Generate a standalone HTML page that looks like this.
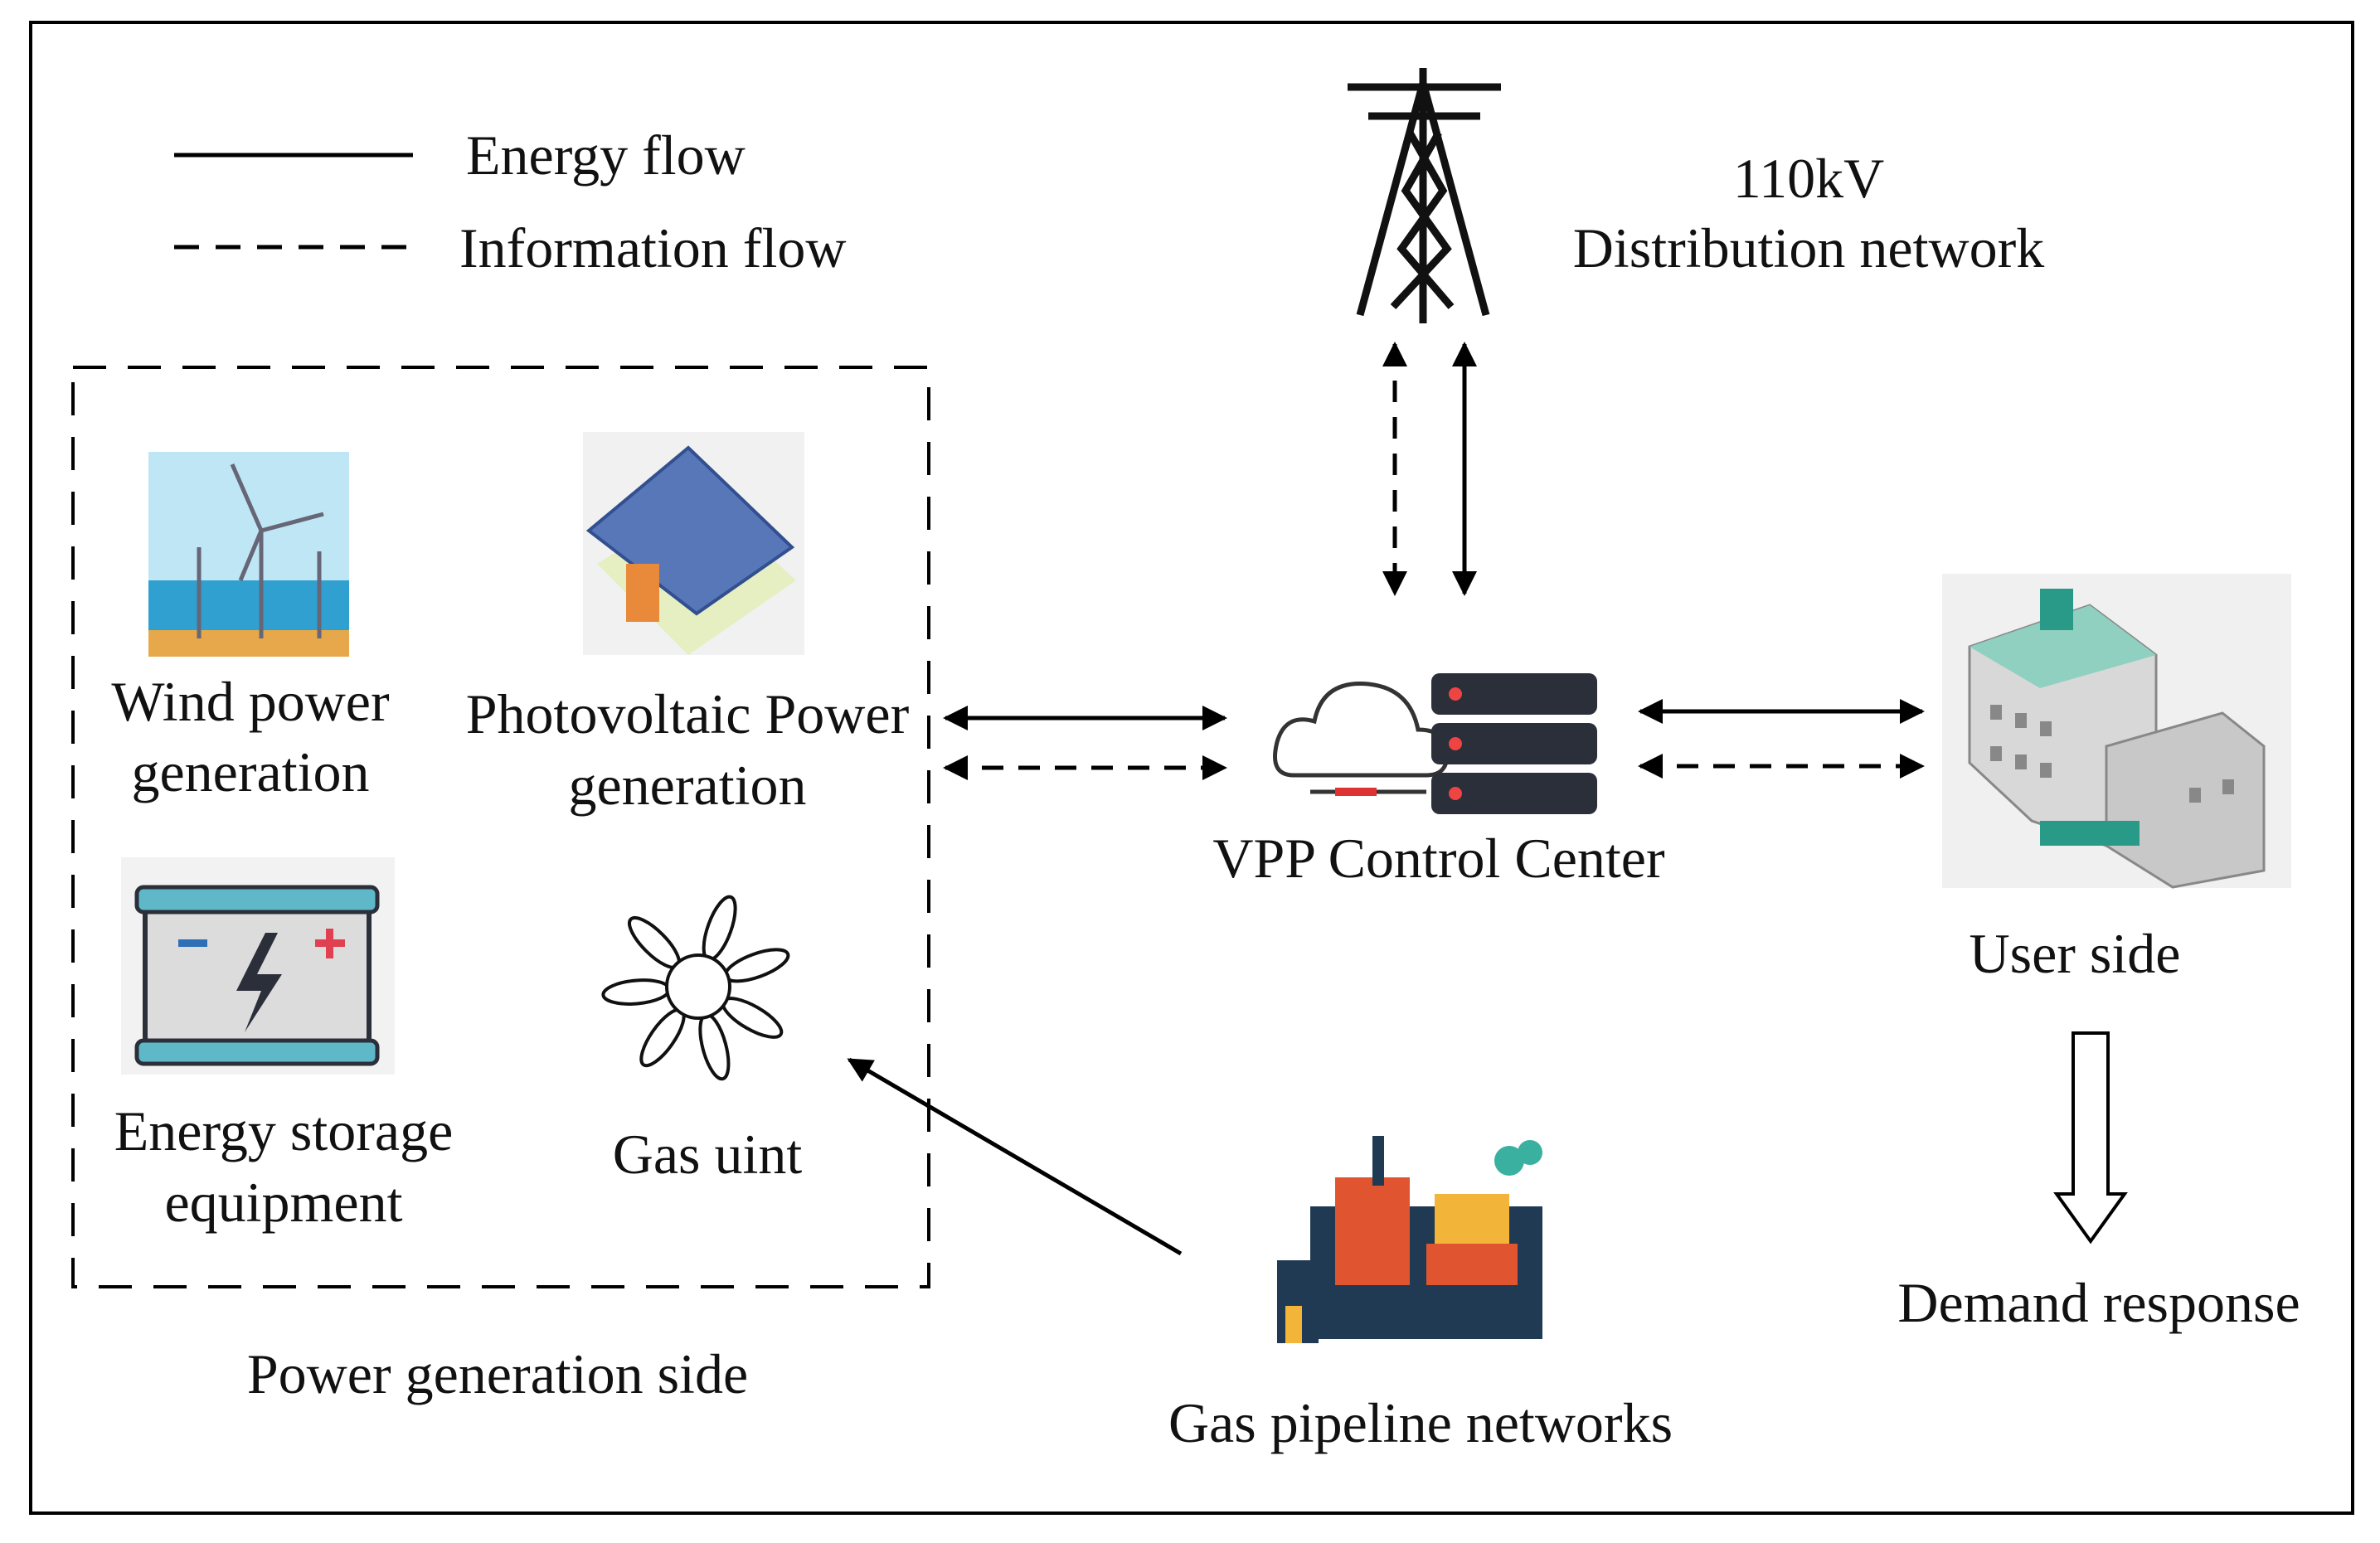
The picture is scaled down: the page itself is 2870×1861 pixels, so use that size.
<!DOCTYPE html>
<html><head><meta charset="utf-8"><style>
html,body{margin:0;padding:0;background:#fff}
svg{display:block}
text{font-family:"Liberation Serif",serif;font-size:68px;fill:#111}
</style></head><body>
<svg width="2870" height="1861" viewBox="0 0 2870 1861" xmlns="http://www.w3.org/2000/svg">
<defs>
<marker id="ah" viewBox="0 0 10 10" refX="9" refY="5" markerWidth="7" markerHeight="6" orient="auto-start-reverse" markerUnits="strokeWidth">
<path d="M0,0 L10,5 L0,10 z" fill="#000"/></marker>
</defs>
<rect x="37" y="27" width="2800" height="1798" fill="none" stroke="#000" stroke-width="4"/>
<line x1="210" y1="187" x2="498" y2="187" stroke="#000" stroke-width="5"/>
<text x="562" y="210">Energy flow</text>
<line x1="210" y1="298" x2="505" y2="298" stroke="#000" stroke-width="5" stroke-dasharray="30,20"/>
<text x="554" y="322">Information flow</text>
<rect x="88" y="443" width="1032" height="1109" fill="none" stroke="#000" stroke-width="4" stroke-dasharray="40,26"/>
<rect x="179" y="545" width="242" height="247" fill="#bfe6f5"/>
<rect x="179" y="700" width="242" height="60" fill="#2fa0d0"/>
<rect x="179" y="760" width="242" height="32" fill="#e6a84a"/>
<g stroke="#667" stroke-width="5"><line x1="315" y1="640" x2="315" y2="770"/><line x1="240" y1="660" x2="240" y2="770"/><line x1="385" y1="665" x2="385" y2="770"/>
<line x1="315" y1="640" x2="280" y2="560"/><line x1="315" y1="640" x2="390" y2="620"/><line x1="315" y1="640" x2="290" y2="700"/></g>
<text x="302" y="869" text-anchor="middle">Wind power</text>
<text x="302" y="954" text-anchor="middle">generation</text>
<rect x="703" y="521" width="267" height="269" fill="#f1f1f1"/>
<polygon points="720,680 830,790 960,700 850,600" fill="#e5efc2"/>
<polygon points="710,640 830,540 955,660 840,740" fill="#5877b8" stroke="#324f8f" stroke-width="4"/>
<rect x="755" y="680" width="40" height="70" fill="#e88a3a"/>
<text x="829" y="884" text-anchor="middle">Photovoltaic Power</text>
<text x="829" y="970" text-anchor="middle">generation</text>
<rect x="146" y="1034" width="330" height="262" fill="#f2f2f2"/>
<rect x="175" y="1075" width="270" height="190" rx="14" fill="#dcdcdc" stroke="#2b2f3a" stroke-width="6"/>
<rect x="165" y="1070" width="290" height="30" rx="8" fill="#5fb8c8" stroke="#2b2f3a" stroke-width="5"/>
<rect x="165" y="1255" width="290" height="28" rx="8" fill="#5fb8c8" stroke="#2b2f3a" stroke-width="5"/>
<polygon points="320,1125 285,1195 315,1195 295,1245 340,1175 310,1175 335,1125" fill="#2b2f3a"/>
<rect x="215" y="1133" width="35" height="9" fill="#2f6fb5"/>
<rect x="380" y="1133" width="36" height="9" fill="#e04050"/><rect x="393" y="1120" width="9" height="36" fill="#e04050"/>
<text x="342" y="1387" text-anchor="middle">Energy storage</text>
<text x="342" y="1473" text-anchor="middle">equipment</text>
<g fill="#fff" stroke="#111" stroke-width="4" transform="translate(842,1190)">
<ellipse cx="0" cy="-75" rx="14" ry="40" transform="rotate(20)"/>
<ellipse cx="0" cy="-75" rx="14" ry="40" transform="rotate(70)"/>
<ellipse cx="0" cy="-75" rx="14" ry="40" transform="rotate(120)"/>
<ellipse cx="0" cy="-75" rx="14" ry="40" transform="rotate(165)"/>
<ellipse cx="0" cy="-75" rx="14" ry="40" transform="rotate(215)"/>
<ellipse cx="0" cy="-75" rx="14" ry="40" transform="rotate(265)"/>
<ellipse cx="0" cy="-75" rx="14" ry="40" transform="rotate(315)"/>
<circle cx="0" cy="0" r="38"/>
</g>
<text x="853" y="1415" text-anchor="middle">Gas uint</text>
<text x="600" y="1680" text-anchor="middle">Power generation side</text>
<g stroke="#111" stroke-width="9" fill="none">
<line x1="1716" y1="82" x2="1716" y2="390"/>
<path d="M1716,100 L1640,380 M1716,100 L1792,380 M1625,105 L1810,105 M1650,140 L1785,140"/>
<path d="M1700,160 L1740,230 L1690,300 L1750,370 M1735,160 L1695,230 L1745,300 L1680,370"/>
</g>
<text x="2181" y="238" text-anchor="middle">110kV</text>
<text x="2181" y="322" text-anchor="middle">Distribution network</text>
<line x1="1682" y1="415" x2="1682" y2="716" stroke="#000" stroke-width="5" stroke-dasharray="26,18" marker-start="url(#ah)" marker-end="url(#ah)"/>
<line x1="1766" y1="415" x2="1766" y2="716" stroke="#000" stroke-width="5" marker-start="url(#ah)" marker-end="url(#ah)"/>
<path d="M1560,935 Q1530,935 1540,895 Q1550,860 1585,870 Q1595,820 1650,825 Q1700,830 1710,880 Q1745,880 1745,910 Q1745,935 1720,935 Z" fill="#fff" stroke="#333" stroke-width="5"/>
<line x1="1580" y1="955" x2="1720" y2="955" stroke="#333" stroke-width="5"/>
<rect x="1610" y="950" width="50" height="10" fill="#d33"/>
<g fill="#2b2f3a"><rect x="1726" y="812" width="200" height="50" rx="10"/><rect x="1726" y="872" width="200" height="50" rx="10"/><rect x="1726" y="932" width="200" height="50" rx="10"/></g>
<g fill="#e44"><circle cx="1755" cy="837" r="8"/><circle cx="1755" cy="897" r="8"/><circle cx="1755" cy="957" r="8"/></g>
<text x="1735" y="1058" text-anchor="middle">VPP Control Center</text>
<line x1="1140" y1="866" x2="1477" y2="866" stroke="#000" stroke-width="5" marker-start="url(#ah)" marker-end="url(#ah)"/>
<line x1="1140" y1="926" x2="1477" y2="926" stroke="#000" stroke-width="5" stroke-dasharray="26,18" marker-start="url(#ah)" marker-end="url(#ah)"/>
<line x1="1978" y1="858" x2="2318" y2="858" stroke="#000" stroke-width="5" marker-start="url(#ah)" marker-end="url(#ah)"/>
<line x1="1978" y1="924" x2="2318" y2="924" stroke="#000" stroke-width="5" stroke-dasharray="26,18" marker-start="url(#ah)" marker-end="url(#ah)"/>
<rect x="2342" y="692" width="421" height="379" fill="#f0f0f0"/>
<polygon points="2375,780 2520,730 2600,790 2600,1040 2450,990 2375,920" fill="#d8d8d8" stroke="#888" stroke-width="3"/>
<polygon points="2375,780 2520,730 2600,790 2460,830" fill="#8fd0c0"/>
<polygon points="2540,900 2680,860 2730,900 2730,1050 2620,1070 2540,1020" fill="#c8c8c8" stroke="#888" stroke-width="3"/>
<g fill="#888"><rect x="2400" y="850" width="14" height="18"/><rect x="2430" y="860" width="14" height="18"/><rect x="2460" y="870" width="14" height="18"/><rect x="2400" y="900" width="14" height="18"/><rect x="2430" y="910" width="14" height="18"/><rect x="2460" y="920" width="14" height="18"/><rect x="2640" y="950" width="14" height="18"/><rect x="2680" y="940" width="14" height="18"/></g>
<rect x="2460" y="710" width="40" height="50" fill="#2a9a88"/>
<rect x="2460" y="990" width="120" height="30" fill="#2a9a88"/>
<text x="2502" y="1173" text-anchor="middle">User side</text>
<polygon points="2500,1246 2542,1246 2542,1440 2562,1440 2521,1497 2480,1440 2500,1440" fill="#fff" stroke="#000" stroke-width="4"/>
<text x="2531" y="1594" text-anchor="middle">Demand response</text>
<rect x="1580" y="1455" width="280" height="160" fill="#1f3a52"/>
<rect x="1540" y="1520" width="50" height="100" fill="#1f3a52"/>
<rect x="1610" y="1420" width="90" height="130" fill="#e0552f"/>
<rect x="1655" y="1370" width="14" height="60" fill="#1f3a52"/>
<rect x="1730" y="1440" width="90" height="70" fill="#f3b43a"/>
<rect x="1720" y="1500" width="110" height="50" fill="#e0552f"/>
<rect x="1550" y="1575" width="20" height="45" fill="#f3b43a"/>
<circle cx="1820" cy="1400" r="18" fill="#3ab0a0"/><circle cx="1845" cy="1390" r="15" fill="#3ab0a0"/>
<text x="1713" y="1739" text-anchor="middle">Gas pipeline networks</text>
<line x1="1424" y1="1512" x2="1024" y2="1278" stroke="#000" stroke-width="5" marker-end="url(#ah)"/>
</svg>
</body></html>
